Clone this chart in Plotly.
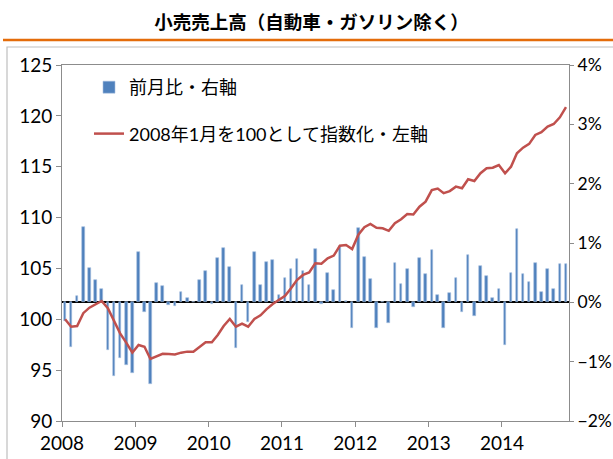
import pandas as pd
import plotly.graph_objects as go

title_text = "小売売上高（自動車・ガソリン除く）"
bar_name = "前月比・右軸"
line_name = "2008年1月を100として指数化・左軸"

months = pd.date_range("2008-01-01", periods=83, freq="MS").strftime("%Y-%m").tolist()

mom_pct = [
    -0.31, -0.76, 0.10, 1.27, 0.58, 0.38, 0.22, -0.81, -1.24, -0.94, -1.05, -1.19,
    0.84, -0.17, -1.37, 0.33, 0.28, -0.04, -0.07, 0.17, 0.07, 0.00, 0.38, 0.52,
    -0.02, 0.75, 0.91, 0.59, -0.77, 0.30, -0.33, 0.85, 0.30, 0.68, 0.71, 0.13,
    0.41, 0.57, 0.73, 0.53, 0.29, 0.90, -0.03, 0.49, 0.20, 0.95, 0.03, -0.44,
    1.25, 0.76, 0.40, -0.43, 0.00, -0.35, 0.67, 0.31, 0.56, -0.08, 0.74, 0.47,
    0.89, 0.12, -0.43, 0.15, 0.41, -0.16, 0.80, -0.23, 0.62, 0.44, 0.08, 0.22,
    -0.72, 0.50, 1.23, 0.47, 0.34, 0.67, 0.18, 0.56, 0.22, 0.65, 0.64,
]

index_vals = [
    100.0, 99.27, 99.34, 100.6, 101.14, 101.47, 101.8, 101.08, 99.77, 98.62, 97.7, 96.72,
    97.47, 97.3, 96.1, 96.32, 96.6, 96.59, 96.55, 96.72, 96.82, 96.82, 97.25, 97.74,
    97.74, 98.46, 99.34, 100.03, 99.27, 99.57, 99.27, 100.03, 100.39, 101.0, 101.5, 101.9,
    102.3, 103.05, 103.86, 104.36, 104.6, 105.5, 105.47, 106.0, 106.26, 107.24, 107.3, 106.9,
    108.32, 109.05, 109.37, 109.0, 108.95, 108.7, 109.44, 109.83, 110.35, 110.3, 111.07, 111.56,
    112.7, 112.85, 112.4, 112.6, 113.04, 112.88, 113.77, 113.6, 114.36, 114.85, 114.9, 115.17,
    114.36, 115.0, 116.32, 116.87, 117.24, 118.12, 118.39, 118.94, 119.2, 119.86, 120.85,
]

mom = [v / 100 for v in mom_pct]

W, H = 613, 459
ML, MR, MT, MB = 62, 44, 65, 38
pw = W - ML - MR
ph = H - MT - MB

def px_x(p):
    return (p - ML) / pw

def px_y(p):
    return (H - MB - p) / ph

fig = go.Figure()
fig.add_trace(go.Bar(
    x=months, y=mom, name=bar_name, yaxis="y",
    xperiod="M1", xperiodalignment="middle",
    width=13 * 86400000,
    marker=dict(color="#4F81BD", line=dict(width=0.6, color="#A9C1E0")),
    legendgroup="a",
))
fig.add_trace(go.Scatter(
    x=months, y=index_vals, name=line_name, yaxis="y2", mode="lines",
    xperiod="M1", xperiodalignment="middle",
    line=dict(color="#C0504D", width=2.5),
    legendgroup="b",
))

tick_font = dict(family="Lato, Noto Sans CJK JP", size=19, color="#000")
right_font = dict(family="Lato, Noto Sans CJK JP", size=17.5, color="#000")
axis_col = "#8C8C8C"

fig.update_layout(
    width=W, height=H,
    margin=dict(l=ML, r=MR, t=MT, b=MB, autoexpand=False),
    paper_bgcolor="white", plot_bgcolor="white",
    title=dict(text="<b>" + title_text + "</b>", x=0.508, xanchor="center",
               y=1 - 23 / H, yanchor="middle",
               font=dict(family="Noto Sans CJK JP", size=18.5, color="#000")),
    showlegend=True,
    legend=dict(x=px_x(89), y=px_y(69), xanchor="left", yanchor="top",
                bgcolor="rgba(255,255,255,0)", borderwidth=0,
                font=dict(family="Lato, Noto Sans CJK JP", size=18, color="#000"),
                tracegroupgap=20, itemwidth=30),
    bargap=0,
    xaxis=dict(
        range=["2008-01-01", "2014-12-01"], type="date", automargin=False,
        tick0="2008-01-01", dtick="M12", tickformat="%Y",
        showgrid=False, showline=True, linecolor=axis_col, linewidth=1,
        mirror=True, ticks="outside", ticklen=5, tickcolor=axis_col,
        tickfont=tick_font, zeroline=False,
    ),
    yaxis=dict(
        side="right", range=[-0.02, 0.04], dtick=0.01, tickformat=".0%",
        automargin=False,
        showgrid=False, showline=True, linecolor=axis_col, linewidth=1,
        ticks="outside", ticklen=4, tickcolor=axis_col, tickfont=right_font,
        zeroline=True, zerolinecolor="#000", zerolinewidth=1.6,
    ),
    yaxis2=dict(
        side="left", overlaying="y", range=[90, 125], dtick=5, automargin=False,
        showgrid=False, showline=True, linecolor=axis_col, linewidth=1,
        ticks="outside", ticklen=5, tickcolor=axis_col, tickfont=tick_font,
        zeroline=False,
    ),
    shapes=[
        dict(type="line", xref="paper", yref="paper",
             x0=px_x(3), x1=px_x(W + 5), y0=px_y(40), y1=px_y(40),
             line=dict(color="#E46C0A", width=2.5)),
        dict(type="rect", xref="paper", yref="paper",
             x0=px_x(7), x1=px_x(W + 20), y0=px_y(H + 20), y1=px_y(47),
             line=dict(color="#BFBFBF", width=1.2), fillcolor="rgba(0,0,0,0)",
             layer="below"),
    ],
)

fig.write_html("out.html")
